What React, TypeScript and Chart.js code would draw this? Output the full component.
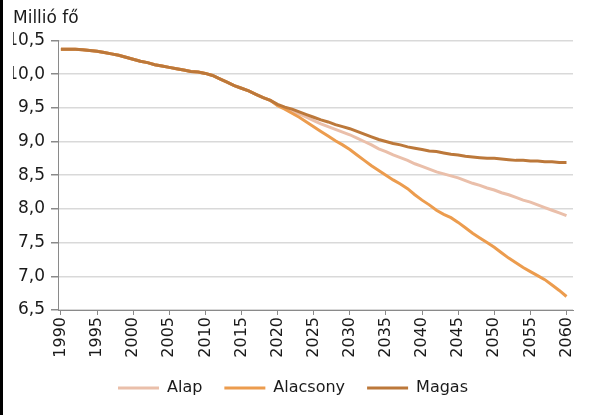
import { useEffect, useRef } from "react"
import { Chart, registerables } from "chart.js"

Chart.register(...registerables)

const years = Array.from({ length: 71 }, (_, i) => 1990 + i)
const tickYears = [1990, 1995, 2000, 2005, 2010, 2015, 2020, 2025, 2030, 2035, 2040, 2045, 2050, 2055, 2060]

// 1990-2019: common observed/estimated part
const history = [
  10.37, 10.37, 10.37, 10.36, 10.35, 10.34, 10.32, 10.3, 10.28, 10.25,
  10.22, 10.19, 10.17, 10.14, 10.12, 10.1, 10.08, 10.06, 10.04, 10.03,
  10.01, 9.98, 9.93, 9.88, 9.83, 9.79, 9.75, 9.7, 9.65, 9.61,
]

// 2020-2060 projections
const alap = [
  9.54, 9.5, 9.45, 9.41, 9.36, 9.31, 9.26, 9.22, 9.18, 9.14,
  9.1, 9.05, 9.0, 8.95, 8.89, 8.85, 8.8, 8.76, 8.72, 8.67,
  8.63, 8.59, 8.55, 8.52, 8.49, 8.46, 8.42, 8.38, 8.35, 8.31,
  8.28, 8.24, 8.21, 8.17, 8.13, 8.1, 8.06, 8.02, 7.98, 7.94, 7.9,
]
const alacsony = [
  9.53, 9.48, 9.42, 9.36, 9.29, 9.22, 9.15, 9.08, 9.01, 8.95,
  8.88, 8.8, 8.72, 8.64, 8.57, 8.5, 8.43, 8.37, 8.3, 8.21,
  8.13, 8.06, 7.98, 7.92, 7.87, 7.8, 7.72, 7.64, 7.57, 7.5,
  7.43, 7.35, 7.27, 7.2, 7.13, 7.07, 7.01, 6.95, 6.87, 6.79, 6.7,
]
const magas = [
  9.55, 9.51, 9.48, 9.44, 9.4, 9.36, 9.32, 9.29, 9.25, 9.22,
  9.19, 9.15, 9.11, 9.07, 9.03, 9.0, 8.97, 8.95, 8.92, 8.9,
  8.88, 8.86, 8.85, 8.83, 8.81, 8.8, 8.78, 8.77, 8.76, 8.75,
  8.75, 8.74, 8.73, 8.72, 8.72, 8.71, 8.71, 8.7, 8.7, 8.69, 8.69,
]

const seriesNames = ["Alap", "Alacsony", "Magas"]
const seriesColors = ["#EABFAA", "#EC9C4E", "#BC783A"]

const FONT = "'DejaVu Sans', sans-serif"

export default function App() {
  const chartRef = useRef<HTMLCanvasElement>(null)
  const chartInstance = useRef<Chart | null>(null)

  useEffect(() => {
    if (!chartRef.current) return
    if (chartInstance.current) chartInstance.current.destroy()
    const ctx = chartRef.current.getContext("2d")
    if (!ctx) return

    const toPoints = (proj: number[]) =>
      [...history, ...proj].map((v, i) => ({ x: years[i], y: v }))
    const allSeries = [alap, alacsony, magas]

    chartInstance.current = new Chart(ctx, {
      type: "line",
      data: {
        datasets: allSeries.map((s, i) => ({
          label: seriesNames[i],
          data: toPoints(s),
          borderColor: seriesColors[i],
          backgroundColor: seriesColors[i],
          borderWidth: 3,
          pointRadius: 0,
          tension: 0,
          order: 2 - i, // Magas on top
        })),
      },
      options: {
        animation: false,
        responsive: true,
        maintainAspectRatio: false,
        layout: { padding: { top: 0, left: 10, right: 21, bottom: 16 } },
        scales: {
          x: {
            type: "linear",
            min: 1989.6,
            max: 2060.9,
            afterBuildTicks: (axis) => {
              axis.ticks = tickYears.map((v) => ({ value: v }))
            },
            afterFit: (scale) => {
              scale.height = 48
            },
            ticks: {
              minRotation: 90,
              maxRotation: 90,
              padding: 2,
              color: "#1a1a1a",
              font: { family: FONT, size: 16 },
              callback: (v) => String(v),
            },
            grid: {
              drawOnChartArea: false,
              drawTicks: true,
              tickLength: 5,
              color: "#8a8a8a",
            },
            border: { color: "#8a8a8a" },
          },
          y: {
            min: 6.5,
            max: 10.5,
            afterFit: (scale) => {
              scale.width = 45
            },
            ticks: {
              stepSize: 0.5,
              padding: 6,
              color: "#1a1a1a",
              font: { family: FONT, size: 17 },
              callback: (v) => Number(v).toFixed(1).replace(".", ","),
            },
            grid: {
              color: "#d9d9d9",
              lineWidth: 1.5,
              tickColor: "#8a8a8a",
              tickLength: 7,
            },
            border: { color: "#8a8a8a" },
          },
        },
        plugins: {
          title: {
            display: true,
            text: "Millió fő",
            align: "start",
            color: "#1a1a1a",
            font: { family: FONT, size: 17, weight: "normal" },
            padding: { top: 8, bottom: 12 },
          },
          legend: {
            position: "bottom",
            maxHeight: 41,
            labels: {
              usePointStyle: true,
              pointStyle: "line",
              pointStyleWidth: 41,
              padding: 22,
              color: "#1a1a1a",
              font: { family: FONT, size: 16 },
              sort: (a, b) => (a.datasetIndex ?? 0) - (b.datasetIndex ?? 0),
            },
          },
          tooltip: { enabled: false },
        },
      },
    })

    return () => {
      if (chartInstance.current) {
        chartInstance.current.destroy()
        chartInstance.current = null
      }
    }
  }, [])

  return (
    <div
      style={{
        position: "fixed",
        left: 0,
        top: 0,
        width: 591,
        height: 415,
        background: "#fff",
        borderLeft: "3px solid #000",
      }}
    >
      <div style={{ position: "absolute", left: 0, top: 0, width: 591, height: 415 }}>
        <canvas ref={chartRef} />
      </div>
    </div>
  )
}
